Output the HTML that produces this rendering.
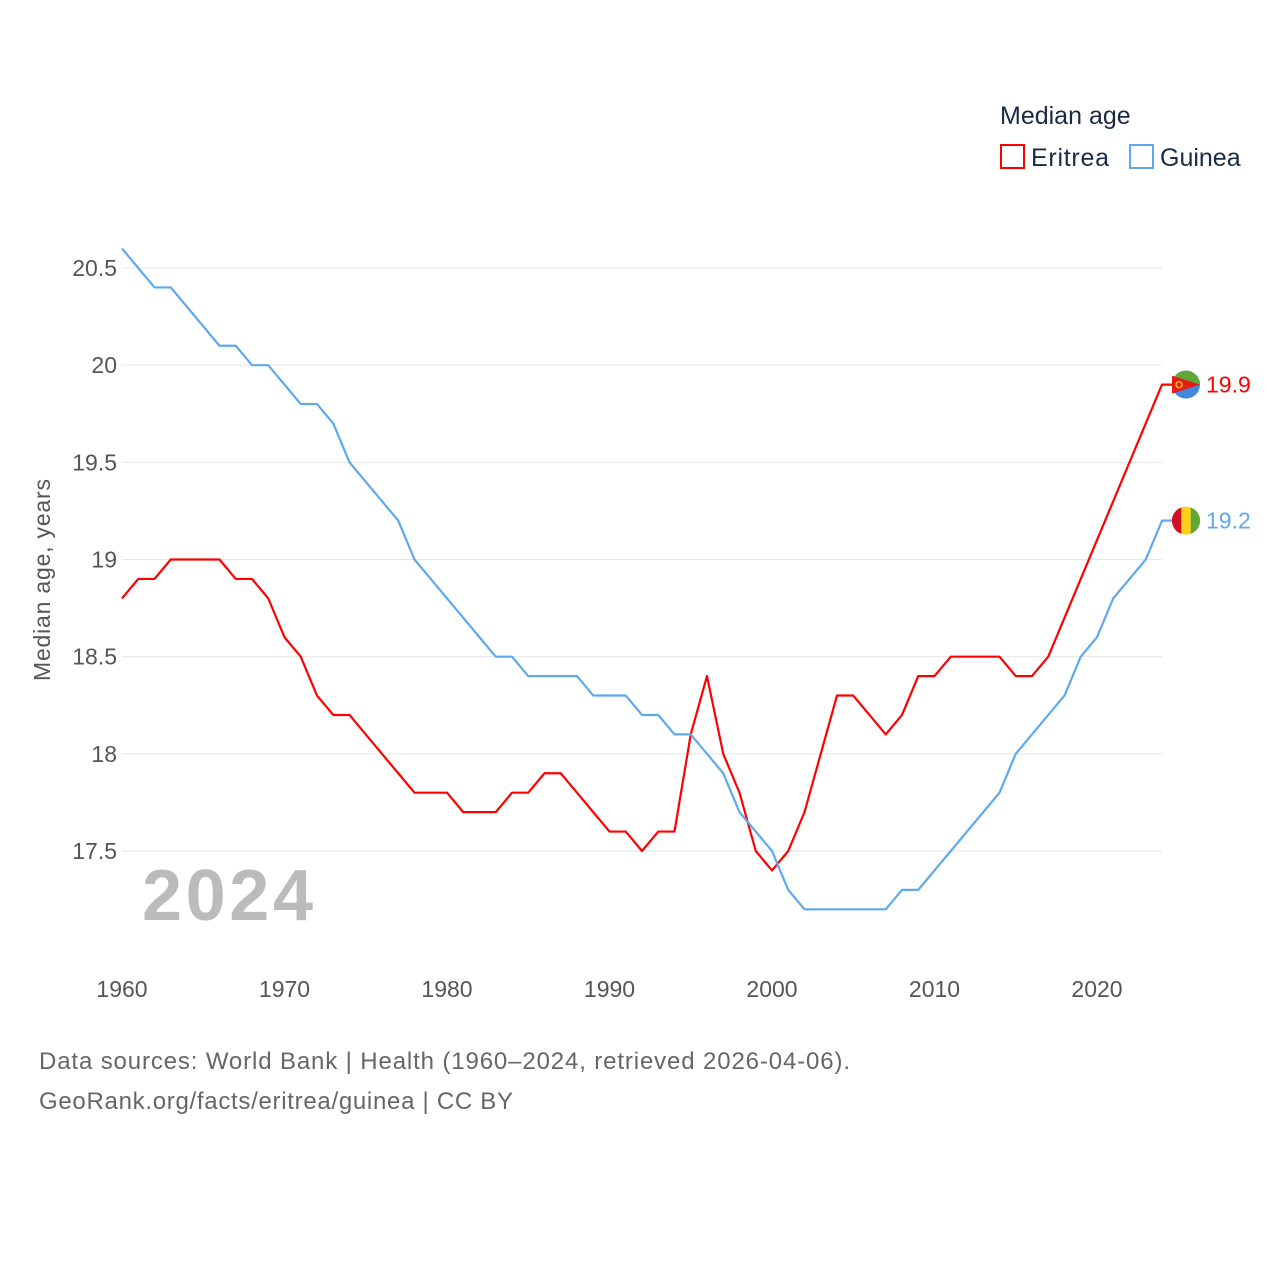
<!DOCTYPE html>
<html><head><meta charset="utf-8"><style>
body{margin:0;background:#fff;font-family:"Liberation Sans",sans-serif}
svg{display:block}
</style></head><body>
<svg id="chart" width="1280" height="1280">
<text x="1000" y="124" font-size="25" fill="#1a2a44">Median age</text>
<g><rect x="1001" y="145" width="23" height="23" fill="none" stroke="#f00" stroke-width="2"/><text x="1031" y="166" font-size="25" fill="#1a2a44" textLength="78">Eritrea</text></g>
<g><rect x="1130" y="145" width="23" height="23" fill="none" stroke="#5ea9ec" stroke-width="2"/><text x="1160" y="166" font-size="25" fill="#1a2a44">Guinea</text></g>
<g id="grid"></g><g id="yt"></g><g id="xt"></g>
<text transform="translate(50,580) rotate(-90)" text-anchor="middle" font-size="23" fill="#555" textLength="202">Median age, years</text>
<text x="142" y="920" font-size="72" font-weight="bold" fill="#bbb" textLength="171">2024</text>
<g id="series"></g><g id="flags"></g>
<text x="39" y="1069" font-size="24" fill="#666" textLength="811">Data sources: World Bank | Health (1960–2024, retrieved 2026-04-06).</text>
<text x="39" y="1109" font-size="24" fill="#666" textLength="474">GeoRank.org/facts/eritrea/guinea | CC BY</text>
</svg>
<script>
const years=[];for(let y=1960;y<=2024;y++)years.push(y);
const eritrea=[18.8,18.9,18.9,19.0,19.0,19.0,19.0,18.9,18.9,18.8,18.6,18.5,18.3,18.2,18.2,18.1,18.0,17.9,17.8,17.8,17.8,17.7,17.7,17.7,17.8,17.8,17.9,17.9,17.8,17.7,17.6,17.6,17.5,17.6,17.6,18.1,18.4,18.0,17.8,17.5,17.4,17.5,17.7,18.0,18.3,18.3,18.2,18.1,18.2,18.4,18.4,18.5,18.5,18.5,18.5,18.4,18.4,18.5,18.7,18.9,19.1,19.3,19.5,19.7,19.9];
const guinea=[20.6,20.5,20.4,20.4,20.3,20.2,20.1,20.1,20.0,20.0,19.9,19.8,19.8,19.7,19.5,19.4,19.3,19.2,19.0,18.9,18.8,18.7,18.6,18.5,18.5,18.4,18.4,18.4,18.4,18.3,18.3,18.3,18.2,18.2,18.1,18.1,18.0,17.9,17.7,17.6,17.5,17.3,17.2,17.2,17.2,17.2,17.2,17.2,17.3,17.3,17.4,17.5,17.6,17.7,17.8,18.0,18.1,18.2,18.3,18.5,18.6,18.8,18.9,19.0,19.2];
const yTicks=[17.5,18,18.5,19,19.5,20,20.5];
const xTicks=[1960,1970,1980,1990,2000,2010,2020];
const X=y=>122+(y-1960)*16.25;
const Y=v=>851-(v-17.5)*194.33;
const NS="http://www.w3.org/2000/svg";
function mk(t,a,p){const e=document.createElementNS(NS,t);for(const k in a)e.setAttribute(k,a[k]);p.appendChild(e);return e;}
const grid=document.getElementById('grid'),yt=document.getElementById('yt'),xt=document.getElementById('xt'),ser=document.getElementById('series'),fl=document.getElementById('flags');
yTicks.forEach(v=>{
 const l=mk('line',{x1:122,x2:1162,y1:Y(v),y2:Y(v),stroke:'#e6e6e6','stroke-width':1},grid);
 
 
 const t=mk('text',{x:117,y:Y(v)+8,'text-anchor':'end','font-size':23,fill:'#555'},yt);
 t.textContent=String(v);
 
 
});
xTicks.forEach(v=>{
 const t=mk('text',{x:X(v),y:997,'text-anchor':'middle','font-size':23,fill:'#555'},xt);
 t.textContent=String(v);
 
 
});
function line(vals,col,name,flag){
 const last=vals[vals.length-1];
 let d=vals.map((v,i)=>(i?'L':'M')+X(years[i])+','+Y(v)).join('')+'L'+(X(2024)+12)+','+Y(last);
 const p=mk('path',{d:d,fill:'none',stroke:col,'stroke-width':2.2,'stroke-linejoin':'round'},ser);
 
 
 const g=mk('g',{},fl);
 
 
 const cx=1186,cy=Y(last);
 flag(g,cx,cy);
 const t=mk('text',{x:1206,y:cy+8,'font-size':23,fill:col},fl);
 t.textContent=String(last);
 
 
}
line(eritrea,'#f00','eritrea',(g,cx,cy)=>{
 mk('circle',{cx:cx,cy:cy,r:14,fill:'#4189dd'},g);
 mk('path',{d:`M${cx-14},${cy}A14,14 0 0 1 ${cx+14},${cy}Z`,fill:'#5fa838'},g);
 mk('path',{d:`M${cx-14},${cy-9}L${cx+14},${cy}L${cx-14},${cy+9}Z`,fill:'#e41b1b'},g);
 mk('circle',{cx:cx-7,cy:cy,r:3,fill:'none',stroke:'#f5c400','stroke-width':1.5},g);
});
line(guinea,'#5ea9ec','guinea',(g,cx,cy)=>{
 mk('circle',{cx:cx,cy:cy,r:14,fill:'#fcd116'},g);
 mk('path',{d:`M${cx-4.7},${cy-13.2}A14,14 0 0 0 ${cx-4.7},${cy+13.2}Z`,fill:'#ce1126'},g);
 mk('path',{d:`M${cx+4.7},${cy-13.2}A14,14 0 0 1 ${cx+4.7},${cy+13.2}Z`,fill:'#5fa838'},g);
});
</script>
</body></html>
